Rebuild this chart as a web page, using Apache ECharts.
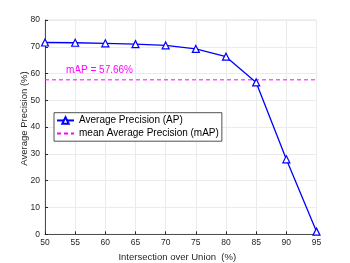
<!DOCTYPE html>
<html><head><meta charset="utf-8">
<script src="https://cdn.jsdelivr.net/npm/echarts@6/dist/echarts.min.js"></script>
<style>html,body{margin:0;padding:0;background:#fff}#c{width:350px;height:263px}</style>
</head><body><div id="c"></div>
<script>
const iouThresholds = [50, 55, 60, 65, 70, 75, 80, 85, 90, 95];
const apValues = [71.6, 71.5, 71.3, 71.0, 70.5, 69.2, 66.3, 56.7, 28.0, 1.0];
const mAP = 57.66;
const mAPRange = [50, 95];

const chart = echarts.init(document.getElementById('c'));
const font = 'Liberation Sans, Arial, sans-serif';
chart.setOption({
  animation: false,
  grid: {left: 45, right: 33.5, top: 20, bottom: 28.7, containLabel: false, outerBoundsMode: 'none',
         show: true, borderColor: '#e0e0e0', borderWidth: 1},
  xAxis: {
    type: 'value', min: 50, max: 95, interval: 5,
    name: 'Intersection over Union  (%)', nameLocation: 'middle', nameGap: 16,
    nameTextStyle: {fontFamily: font, fontSize: 9.5, color: '#262626', padding: [0, 7, 0, 0]},
    axisLine: {show: true, onZero: false, lineStyle: {color: '#262626', width: 0.8}},
    axisTick: {show: true, inside: true, length: 3, lineStyle: {color: '#262626'}},
    axisLabel: {fontFamily: font, fontSize: 8.5, color: '#262626', margin: 4},
    splitLine: {show: true, lineStyle: {color: '#ebebeb', width: 1}}
  },
  yAxis: {
    type: 'value', min: 0, max: 80, interval: 10,
    axisLine: {show: true, lineStyle: {color: '#262626', width: 0.8}},
    axisTick: {show: true, inside: true, length: 3, lineStyle: {color: '#262626'}},
    axisLabel: {fontFamily: font, fontSize: 8.5, color: '#262626', margin: 5},
    splitLine: {show: true, lineStyle: {color: '#ebebeb', width: 1}}
  },
  legend: {
    orient: 'vertical', left: 54, top: 112.7,
    padding: [2, 3, 2, 2], itemGap: 1.5, itemWidth: 17, itemHeight: 8,
    borderColor: '#262626', borderWidth: 0.8, backgroundColor: '#fff',
    textStyle: {fontFamily: font, fontSize: 10, color: '#000', lineHeight: 11.5},
    data: ['Average Precision (AP)', 'mean Average Precision (mAP)']
  },
  graphic: [{
    type: 'text', left: 66, top: 65.5,
    style: {text: 'mAP = ' + mAP.toFixed(2) + '%', fill: '#ff00ff', font: '10px ' + font}
  }, {
    type: 'text', x: 24.7, y: 118.5, rotation: Math.PI / 2,
    style: {text: 'Average Precision (%)', fill: '#262626', font: '9.5px ' + font, align: 'center', verticalAlign: 'middle'}
  }],
  series: [{
    name: 'Average Precision (AP)', type: 'line',
    data: iouThresholds.map((x, i) => [x, apValues[i]]),
    symbol: 'triangle', symbolSize: 7,
    lineStyle: {color: '#0000ff', width: 1.3},
    itemStyle: {color: '#fff', borderColor: '#0000ff', borderWidth: 1.2},
    z: 3
  }, {
    name: 'mean Average Precision (mAP)', type: 'line',
    data: mAPRange.map(x => [x, mAP]),
    symbol: 'circle', symbolSize: 0, showSymbol: false,
    lineStyle: {color: '#ff00ff', width: 1, type: [4, 3]},
    itemStyle: {color: '#ff00ff', opacity: 0},
    z: 2
  }]
});
</script></body></html>
